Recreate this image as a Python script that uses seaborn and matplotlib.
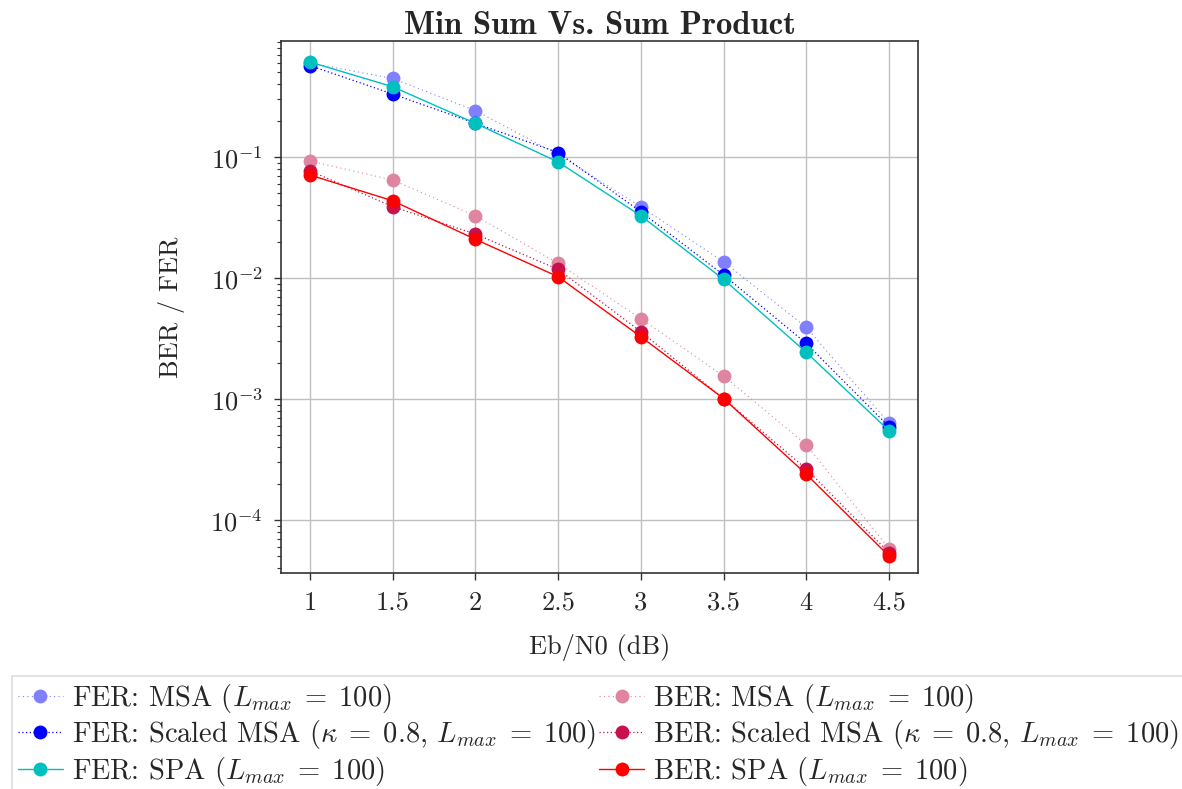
import numpy as np
import pandas as pd
import matplotlib
matplotlib.use("Agg")
import matplotlib.pyplot as plt
import seaborn as sns

# Eb/N0 points (dB)
ebn0 = [1.0, 1.5, 2.0, 2.5, 3.0, 3.5, 4.0, 4.5]

# FER curves
fer_msa = [0.60, 0.446, 0.242, 0.105, 0.0388, 0.0136, 0.00391, 0.00063]
fer_smsa = [0.57, 0.332, 0.19, 0.109, 0.0353, 0.0106, 0.00288, 0.00059]
fer_spa = [0.61, 0.381, 0.19, 0.091, 0.0327, 0.00975, 0.00243, 0.000547]

# BER curves
ber_msa = [0.0927, 0.0645, 0.0327, 0.0132, 0.00461, 0.00155, 0.000419, 5.8e-5]
ber_smsa = [0.077, 0.0389, 0.0231, 0.0118, 0.0036, 0.00101, 0.000264, 5.37e-5]
ber_spa = [0.071, 0.0435, 0.0209, 0.01025, 0.00327, 0.00101, 0.000239, 5.04e-5]

labels = [
    r"FER: MSA ($L_{max} \;=\; 100$)",
    r"BER: MSA ($L_{max} \;=\; 100$)",
    r"FER: Scaled MSA ($\kappa \;=\; 0.8$, $L_{max} \;=\; 100$)",
    r"BER: Scaled MSA ($\kappa \;=\; 0.8$, $L_{max} \;=\; 100$)",
    r"FER: SPA ($L_{max} \;=\; 100$)",
    r"BER: SPA ($L_{max} \;=\; 100$)",
]
series = [fer_msa, ber_msa, fer_smsa, ber_smsa, fer_spa, ber_spa]
colors = ["#8080ff", "#df85a0", "#0000ff", "#c8104a", "#00bfbf", "#ff0000"]
styles = [(0, (1, 3)), (0, (1, 3)), (0, (1, 2)), (0, (1, 2)), "-", "-"]
widths = [0.8, 0.8, 0.9, 0.9, 1.0, 1.0]

rows = []
for lab, vals in zip(labels, series):
    for x, y in zip(ebn0, vals):
        rows.append({"ebn0": x, "err": y, "curve": lab})
df = pd.DataFrame(rows)

sns.set_style("whitegrid")
plt.rcParams["font.family"] = ["cmr10", "DejaVu Serif"]
plt.rcParams["mathtext.fontset"] = "cm"
plt.rcParams["axes.formatter.use_mathtext"] = True
plt.rcParams["axes.unicode_minus"] = False

fig = plt.figure(figsize=(11.82, 7.89), dpi=100)
ax = fig.add_axes([281 / 1182, 1 - 573 / 789, 637 / 1182, 532 / 789])

# draw FER first then BER so red/cyan sit on top like the reference
order = [0, 2, 4, 1, 3, 5]
for i in order:
    sub = df[df["curve"] == labels[i]]
    sns.lineplot(data=sub, x="ebn0", y="err", ax=ax, color=colors[i],
                 linestyle=styles[i], linewidth=widths[i], marker="o",
                 markersize=10, markeredgewidth=0, label=labels[i],
                 legend=False)

ax.set_yscale("log")
ax.set_xlim(0.825, 4.675)
ax.set_ylim(3.65e-5, 0.91)
ax.set_xticks(ebn0)
ax.set_xticklabels(["1", "1.5", "2", "2.5", "3", "3.5", "4", "4.5"])
ax.set_yticks([1e-4, 1e-3, 1e-2, 1e-1])
ax.yaxis.set_minor_locator(matplotlib.ticker.LogLocator(base=10, subs=np.arange(2, 10)))
ax.yaxis.set_minor_formatter(matplotlib.ticker.NullFormatter())

ax.grid(True, which="major", color="#c0c0c0", linewidth=1.0)
ax.grid(False, which="minor")
for s in ax.spines.values():
    s.set_color("#333333")
    s.set_linewidth(1.2)
ax.tick_params(axis="both", which="major", direction="out", length=5, width=1,
               color="#333333", labelsize=19, pad=8, left=True, bottom=True)
ax.tick_params(axis="y", which="minor", direction="out", length=3, width=0.8,
               color="#333333", left=True)

ax.set_xlabel("Eb/N0 (dB)", fontsize=19, labelpad=14)
ax.set_ylabel("BER / FER", fontsize=19, labelpad=18)
ax.set_title("Min Sum Vs. Sum Product", fontsize=23.5, fontfamily="cmb10", pad=5)

handles, labs = ax.get_legend_handles_labels()
hmap = dict(zip(labs, handles))
leg_order = [labels[0], labels[2], labels[4], labels[1], labels[3], labels[5]]
leg = fig.legend([hmap[l] for l in leg_order], leg_order, ncol=2,
                 loc="upper left", bbox_to_anchor=(12 / 1182, 1 - 676 / 789),
                 fontsize=20.5, frameon=True, fancybox=False, framealpha=1,
                 edgecolor="#dddddd", handlelength=1.6, handletextpad=0.3,
                 labelspacing=0.12, columnspacing=0.1, borderpad=0.2,
                 borderaxespad=0)
leg.get_frame().set_linewidth(1.2)

fig.savefig("out.png", dpi=100)
